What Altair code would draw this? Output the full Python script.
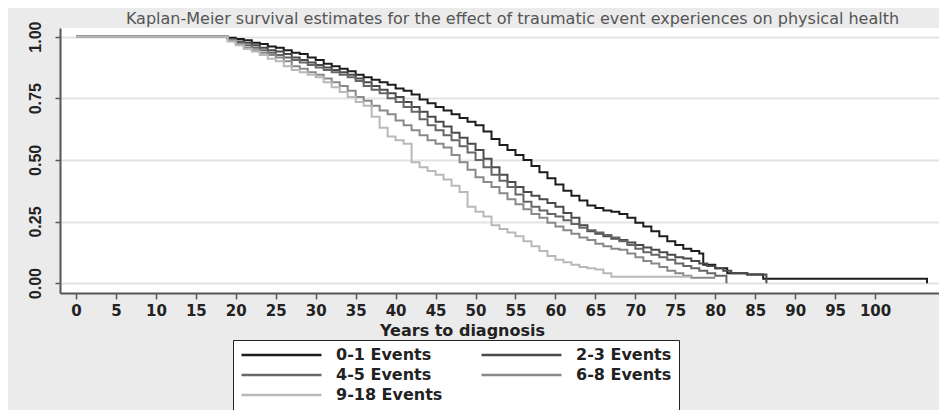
import altair as alt
import pandas as pd

title_text = "Kaplan-Meier survival estimates for the effect of traumatic event experiences on physical health"
groups = ["0-1 Events", "2-3 Events", "4-5 Events", "6-8 Events", "9-18 Events"]
colors = ["#1c1c1c", "#4a4a4a", "#666666", "#898989", "#b9b9b9"]
x_ticks = [0, 5, 10, 15, 20, 25, 30, 35, 40, 45, 50, 55, 60, 65, 70, 75, 80, 85, 90, 95, 100]
y_ticks = [0.0, 0.25, 0.5, 0.75, 1.0]

t_01 = [0, 18, 19, 20, 21, 22, 23, 24, 25, 26, 27, 28, 29, 30, 31, 32, 33, 34, 35, 36, 37, 38, 39,
        40, 41, 42, 43, 44, 45, 46, 47, 48, 49, 50, 51, 52, 53, 54, 55, 56, 57, 58, 59, 60, 61, 62,
        63, 64, 65, 66, 67, 68, 69, 70, 71, 72, 73, 74, 75, 76, 77, 78, 78.5, 80, 81.5, 84, 86, 106.5]
s_01 = [1.0, 1.0, 0.995, 0.99, 0.985, 0.975, 0.97, 0.96, 0.955, 0.945, 0.935, 0.93, 0.915, 0.905,
        0.89, 0.88, 0.87, 0.86, 0.845, 0.835, 0.825, 0.815, 0.805, 0.79, 0.78, 0.765, 0.745, 0.73,
        0.715, 0.70, 0.685, 0.67, 0.655, 0.64, 0.615, 0.585, 0.56, 0.54, 0.52, 0.50, 0.475, 0.45,
        0.425, 0.40, 0.375, 0.355, 0.335, 0.315, 0.305, 0.295, 0.29, 0.28, 0.265, 0.245, 0.23, 0.21,
        0.19, 0.17, 0.155, 0.14, 0.13, 0.12, 0.075, 0.06, 0.04, 0.035, 0.018, 0.0]

t_23 = [0, 18, 19, 20, 21, 22, 23, 24, 25, 26, 27, 28, 29, 30, 31, 32, 33, 34, 35, 36, 37, 38, 39,
        40, 41, 42, 43, 44, 45, 46, 47, 48, 49, 50, 51, 52, 53, 54, 55, 56, 57, 58, 59, 60, 61, 62,
        63, 64, 65, 66, 67, 68, 69, 70, 71, 72, 73, 74, 75, 76, 77, 78, 79, 80, 81, 82, 84, 86.4]
s_23 = [1.0, 1.0, 0.99, 0.98, 0.975, 0.965, 0.955, 0.945, 0.94, 0.93, 0.915, 0.905, 0.895, 0.885,
        0.875, 0.865, 0.855, 0.845, 0.83, 0.815, 0.80, 0.785, 0.77, 0.755, 0.735, 0.715, 0.695,
        0.675, 0.655, 0.635, 0.61, 0.59, 0.565, 0.54, 0.505, 0.47, 0.44, 0.41, 0.39, 0.37, 0.355,
        0.34, 0.325, 0.31, 0.285, 0.265, 0.235, 0.21, 0.20, 0.19, 0.18, 0.175, 0.165, 0.155, 0.145,
        0.135, 0.125, 0.115, 0.105, 0.10, 0.09, 0.08, 0.07, 0.06, 0.05, 0.04, 0.035, 0.0]

t_45 = [0, 18, 19, 20, 21, 22, 23, 24, 25, 26, 27, 28, 29, 30, 31, 32, 33, 34, 35, 36, 37, 38, 39,
        40, 41, 42, 43, 44, 45, 46, 47, 48, 49, 50, 51, 52, 53, 54, 55, 56, 57, 58, 59, 60, 61, 62,
        63, 64, 65, 66, 67, 68, 69, 70, 71, 72, 73, 74, 75, 76, 77, 78, 79, 80, 81.4]
s_45 = [1.0, 1.0, 0.985, 0.975, 0.965, 0.955, 0.945, 0.935, 0.925, 0.915, 0.905, 0.895, 0.885,
        0.875, 0.865, 0.855, 0.845, 0.835, 0.82, 0.80, 0.785, 0.77, 0.75, 0.735, 0.715, 0.695,
        0.665, 0.64, 0.62, 0.60, 0.58, 0.555, 0.53, 0.50, 0.47, 0.44, 0.415, 0.39, 0.36, 0.33, 0.31,
        0.295, 0.28, 0.27, 0.255, 0.24, 0.225, 0.215, 0.205, 0.195, 0.185, 0.17, 0.155, 0.14, 0.125,
        0.115, 0.105, 0.095, 0.08, 0.07, 0.06, 0.05, 0.04, 0.03, 0.0]

t_68 = [0, 18, 19, 20, 21, 22, 23, 24, 25, 26, 27, 28, 29, 30, 31, 32, 33, 34, 35, 36, 37, 38, 39,
        40, 41, 42, 43, 44, 45, 46, 47, 48, 49, 50, 51, 52, 53, 54, 55, 56, 57, 58, 59, 60, 61, 62,
        63, 64, 65, 66, 67, 68, 69, 70, 71, 72, 73, 74, 75, 76, 77, 80]
s_68 = [1.0, 1.0, 0.985, 0.97, 0.955, 0.945, 0.935, 0.925, 0.915, 0.90, 0.88, 0.87, 0.855, 0.845,
        0.83, 0.815, 0.80, 0.78, 0.755, 0.74, 0.72, 0.70, 0.685, 0.66, 0.64, 0.62, 0.60, 0.58, 0.565,
        0.55, 0.52, 0.49, 0.46, 0.43, 0.41, 0.39, 0.365, 0.34, 0.32, 0.30, 0.28, 0.265, 0.245, 0.23,
        0.215, 0.20, 0.185, 0.175, 0.16, 0.15, 0.14, 0.135, 0.12, 0.105, 0.09, 0.08, 0.065, 0.05,
        0.04, 0.03, 0.022, 0.022]

t_918 = [0, 18, 19, 20, 21, 22, 23, 24, 25, 26, 27, 28, 29, 30, 31, 32, 33, 34, 35, 36, 37, 38, 39,
         40, 41, 42, 43, 44, 45, 46, 47, 48, 49, 50, 51, 52, 53, 54, 55, 56, 57, 58, 59, 60, 61, 62,
         63, 64, 65, 66, 67, 77]
s_918 = [1.0, 1.0, 0.98, 0.965, 0.95, 0.94, 0.925, 0.91, 0.90, 0.88, 0.865, 0.855, 0.845, 0.835,
         0.815, 0.795, 0.775, 0.755, 0.735, 0.72, 0.675, 0.63, 0.595, 0.58, 0.565, 0.49, 0.47, 0.455,
         0.44, 0.42, 0.395, 0.37, 0.31, 0.29, 0.27, 0.235, 0.22, 0.205, 0.19, 0.17, 0.15, 0.13, 0.11,
         0.095, 0.085, 0.075, 0.065, 0.06, 0.055, 0.04, 0.026, 0.026]

series_t = [t_01, t_23, t_45, t_68, t_918]
series_s = [s_01, s_23, s_45, s_68, s_918]

rows = []
for g, ts, ss in zip(groups, series_t, series_s):
    for i, (t, s) in enumerate(zip(ts, ss)):
        rows.append({"group": g, "t": t, "s": s, "idx": i})
df = pd.DataFrame(rows)

chart = alt.Chart(df).mark_line(interpolate="step-after", strokeWidth=2).encode(
    x=alt.X("t:Q",
            scale=alt.Scale(domain=[-2, 108], nice=False, zero=False),
            axis=alt.Axis(values=x_ticks, title="Years to diagnosis", grid=False,
                          labelFont="DejaVu Sans", labelFontWeight="bold", labelFontSize=15,
                          labelColor="#222", labelPadding=4, tickSize=6, tickWidth=1.5,
                          tickColor="#555", domainColor="#555", domainWidth=2,
                          labelFlush=False, labelOverlap=False,
                          titleFont="DejaVu Sans", titleFontWeight="bold", titleFontSize=16,
                          titleColor="#222", titleX=402, titleY=37, titleBaseline="middle",
                          titleAnchor="start", titleAlign="center")),
    y=alt.Y("s:Q",
            scale=alt.Scale(domain=[-0.04, 1.035], nice=False, zero=False),
            axis=alt.Axis(values=y_ticks, format=".2f", title=None, grid=True,
                          gridColor="#e3e3e3", gridWidth=2,
                          labelAngle=270, labelAlign="center", labelBaseline="bottom",
                          labelPadding=12, tickSize=5, tickWidth=1.5, tickColor="#555",
                          domainColor="#555", domainWidth=2,
                          labelFont="Liberation Sans Narrow, Liberation Sans",
                          labelFontWeight="bold", labelFontSize=16, labelColor="#222")),
    color=alt.Color("group:N",
                    scale=alt.Scale(domain=groups, range=colors),
                    legend=alt.Legend(title=None, orient="none", legendX=173, legendY=312,
                                      direction="horizontal", columns=2,
                                      symbolType="stroke", symbolSize=6400,
                                      symbolStrokeWidth=2.5, clipHeight=16,
                                      labelOffset=13, labelFont="DejaVu Sans",
                                      labelFontSize=16, labelFontWeight="bold",
                                      labelColor="#222", columnPadding=37, rowPadding=4,
                                      padding=7, strokeColor="#222", fillColor="white",
                                      labelLimit=220)),
    order=alt.Order("idx:Q"),
).properties(
    width=879,
    height=265,
    autosize=alt.AutoSizeParams(type="none"),
    padding={"left": 52, "top": 20, "right": 0, "bottom": 117},
    background="#ebebeb",
    title=alt.TitleParams(title_text, font="DejaVu Sans", fontSize=16, fontWeight="normal",
                          color="#555", anchor="middle", dx=13, dy=12, offset=6),
).configure_view(
    fill="white", strokeWidth=0
)

chart.save("out.html", embed_options={"renderer": "svg", "actions": False})
